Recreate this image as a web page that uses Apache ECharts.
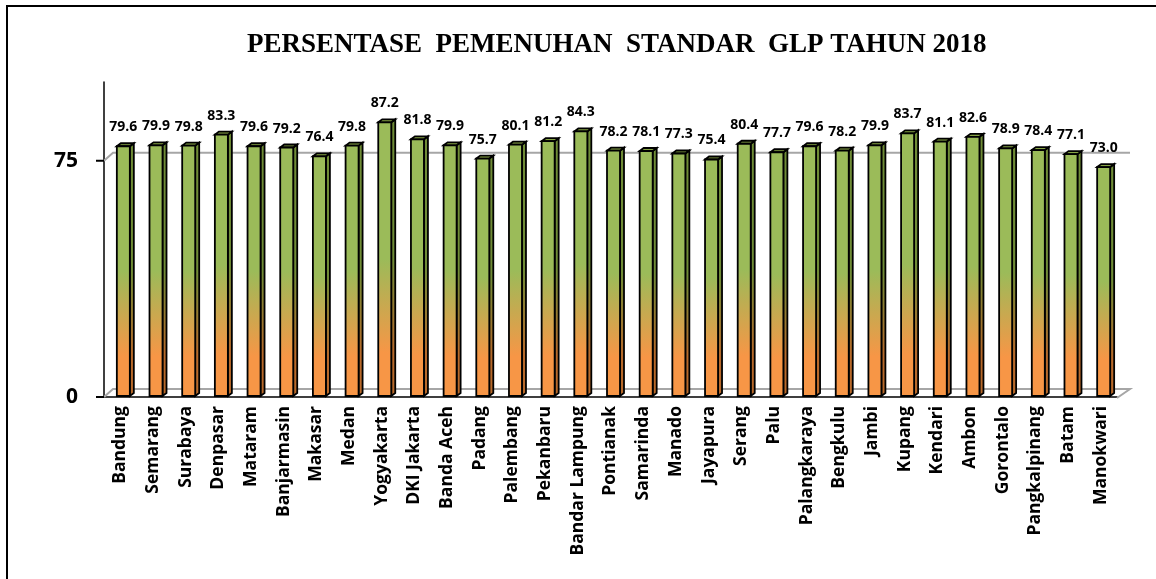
<!DOCTYPE html>
<html>
<head>
<meta charset="utf-8">
<script src="https://cdn.jsdelivr.net/npm/echarts@6/dist/echarts.min.js"></script>
<style>
  html, body { margin: 0; padding: 0; background: #fff; }
  #main { width: 1156px; height: 579px; }
</style>
</head>
<body>
<div id="main"></div>
<script>
var titleText = 'PERSENTASE  PEMENUHAN  STANDAR  GLP TAHUN 2018';

var cities = ['Bandung', 'Semarang', 'Surabaya', 'Denpasar', 'Mataram', 'Banjarmasin', 'Makasar',
  'Medan', 'Yogyakarta', 'DKI Jakarta', 'Banda Aceh', 'Padang', 'Palembang', 'Pekanbaru',
  'Bandar Lampung', 'Pontianak', 'Samarinda', 'Manado', 'Jayapura', 'Serang', 'Palu',
  'Palangkaraya', 'Bengkulu', 'Jambi', 'Kupang', 'Kendari', 'Ambon', 'Gorontalo',
  'Pangkalpinang', 'Batam', 'Manokwari'];

var values = [79.6, 79.9, 79.8, 83.3, 79.6, 79.2, 76.4, 79.8, 87.2, 81.8, 79.9, 75.7, 80.1, 81.2,
  84.3, 78.2, 78.1, 77.3, 75.4, 80.4, 77.7, 79.6, 78.2, 79.9, 83.7, 81.1, 82.6, 78.9, 78.4, 77.1, 73.0];

var yTicks = [0, 75];

var myChart = echarts.init(document.getElementById('main'));

var DEPTH_X = 9, DEPTH_Y = 8;   // back wall offset
var BX = 4, BY = 3;             // bar depth

function frontGrad() {
  return new echarts.graphic.LinearGradient(0, 0, 0, 1, [
    { offset: 0, color: '#9BBB59' },
    { offset: 0.5, color: '#9BBB59' },
    { offset: 0.84, color: '#F79646' },
    { offset: 1, color: '#F79646' }
  ]);
}
function sideGrad() {
  return new echarts.graphic.LinearGradient(0, 0, 0, 1, [
    { offset: 0, color: '#6F8C36' },
    { offset: 0.5, color: '#6F8C36' },
    { offset: 0.84, color: '#B8692A' },
    { offset: 1, color: '#B8692A' }
  ]);
}

// 3D looking bars
function renderBar(params, api) {
  var idx = api.value(0);
  var top = api.coord([idx, api.value(1)]);
  var base = api.coord([idx, 0]);
  var w = 13;
  var cx = top[0] + 3;
  var x0 = cx - w / 2, x1 = cx + w / 2;
  var yt = top[1], yb = base[1] - 1;
  var stroke = { stroke: '#000', lineWidth: 1.8 };
  return {
    type: 'group',
    children: [
      {
        type: 'polygon',
        shape: { points: [[x1, yt], [x1 + BX, yt - BY], [x1 + BX, yb - BY], [x1, yb]] },
        style: Object.assign({ fill: sideGrad() }, stroke)
      },
      {
        type: 'polygon',
        shape: { points: [[x0, yt], [x0 + BX, yt - BY], [x1 + BX, yt - BY], [x1, yt]] },
        style: Object.assign({ fill: '#86A345' }, stroke)
      },
      {
        type: 'rect',
        shape: { x: x0, y: yt, width: w, height: yb - yt },
        style: Object.assign({ fill: frontGrad() }, stroke)
      },
      {
        type: 'text',
        style: {
          text: api.value(1).toFixed(1),
          x: cx, y: yt - 12,
          textAlign: 'center', textVerticalAlign: 'bottom',
          font: 'bold 14px "Open Sans"', fill: '#000'
        }
      }
    ]
  };
}

// back wall gridlines, floor and y ticks
function renderWalls(params, api) {
  var cs = params.coordSys;
  var xl = cs.x, xr = cs.x + cs.width;
  var children = [];
  yTicks.forEach(function (t) {
    var y = api.coord([0, t])[1];
    var pts = [[xl, y], [xl + DEPTH_X, y - DEPTH_Y], [xr + DEPTH_X + 4, y - DEPTH_Y]];
    if (t === 0) pts.push([xr, y + 1]);
    children.push({
      type: 'polyline',
      shape: { points: pts },
      style: { stroke: '#A6A6A6', lineWidth: 2, fill: null }
    });
    children.push({
      type: 'line',
      shape: { x1: xl - 8, y1: y, x2: xl, y2: y },
      style: { stroke: '#000', lineWidth: 2 }
    });
  });
  return { type: 'group', children: children };
}

myChart.setOption({
  animation: false,
  graphic: [
    {
      type: 'rect',
      shape: { x: 7, y: 6, width: 1200, height: 700 },
      style: { fill: null, stroke: '#000', lineWidth: 2 },
      z: -10
    },
    {
      type: 'text',
      left: 247, top: 32,
      style: {
        text: titleText,
        font: 'bold 27px "Liberation Serif"',
        fill: '#000'
      }
    }
  ],
  grid: { left: 104, right: 39, top: 82, bottom: 182 },
  xAxis: {
    type: 'category',
    data: cities,
    axisLine: { lineStyle: { color: '#000', width: 1.5 } },
    axisTick: { alignWithLabel: false, length: 6, lineStyle: { color: '#000', width: 2 } },
    axisLabel: {
      rotate: 90, interval: 0, margin: 9,
      color: '#000', fontFamily: 'Open Sans', fontWeight: 'bold', fontSize: 17.5
    }
  },
  yAxis: {
    type: 'value',
    min: 0, max: 100, interval: 75,
    axisLine: { show: true, lineStyle: { color: '#000', width: 1.5 } },
    axisTick: { show: false },
    splitLine: { show: false },
    axisLabel: {
      showMaxLabel: false, margin: 26,
      color: '#000', fontFamily: 'Open Sans', fontWeight: 'bold', fontSize: 21
    }
  },
  series: [
    {
      type: 'custom',
      renderItem: renderWalls,
      data: [[0, 0]],
      silent: true,
      z: 1
    },
    {
      type: 'custom',
      renderItem: renderBar,
      data: values.map(function (v, i) { return [i, v]; }),
      encode: { x: 0, y: 1 },
      z: 3
    }
  ]
});
</script>
</body>
</html>
